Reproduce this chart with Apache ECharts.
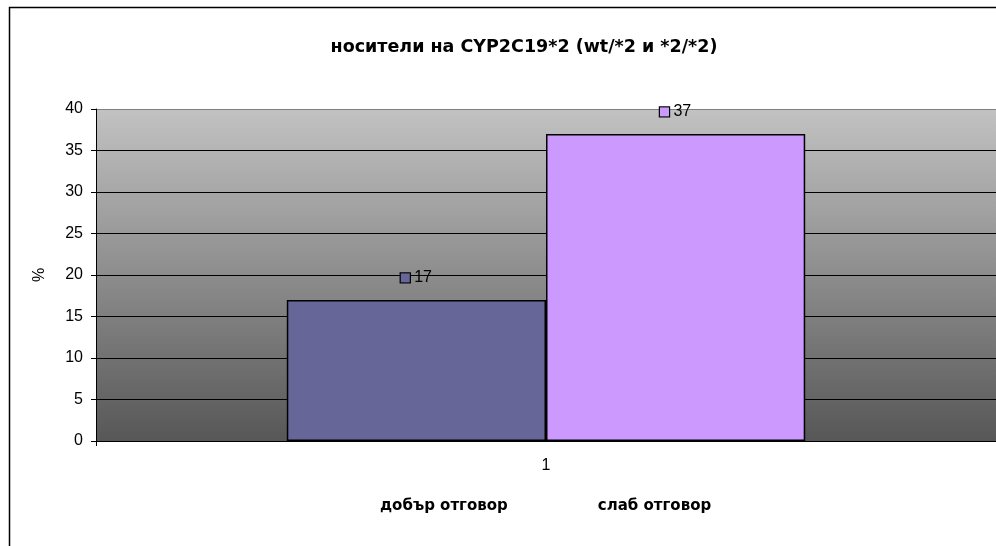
<!DOCTYPE html>
<html>
<head>
<meta charset="utf-8">
<script src="https://cdn.jsdelivr.net/npm/echarts@6/dist/echarts.min.js"></script>
<style>
  html, body { margin: 0; padding: 0; background: #fff; }
  #chart { width: 996px; height: 546px; }
</style>
</head>
<body>
<div id="chart"></div>
<script>
// Chart data
const titleText = 'носители на CYP2C19*2 (wt/*2 и *2/*2)';
const categories = ['1'];
const seriesNames = ['добър отговор', 'слаб отговор'];
const goodResponse = [17];
const poorResponse = [37];
const seriesColors = ['#666699', '#CC99FF'];
const yTicks = { min: 0, max: 40, interval: 5 };

const chart = echarts.init(document.getElementById('chart'));
const plainFont = 'Liberation Sans, Arial, sans-serif';

function makeLabel(color) {
  return {
    show: true,
    position: 'top',
    distance: 14,
    formatter: function (p) { return '{sq|}{v| ' + p.value + '}'; },
    rich: {
      sq: { width: 9, height: 9, backgroundColor: color, borderColor: '#000', borderWidth: 1.2 },
      v: { fontFamily: plainFont, fontSize: 16, color: '#000' }
    }
  };
}

const values = [goodResponse, poorResponse];

chart.setOption({
  animation: false,
  backgroundColor: '#fff',
  title: {
    text: titleText,
    left: 519,
    textAlign: 'center',
    top: 33,
    textStyle: { fontFamily: 'DejaVu Sans', fontWeight: 'bold', fontSize: 17.5, color: '#000' }
  },
  legend: {
    data: seriesNames,
    icon: 'none',
    left: 370,
    top: 494,
    itemGap: 85,
    itemWidth: 0,
    textStyle: { fontFamily: 'DejaVu Sans', fontWeight: 'bold', fontSize: 15, color: '#000' }
  },
  graphic: [{
    type: 'rect',
    shape: { x: 9.5, y: 7.5, width: 1000, height: 560 },
    style: { fill: 'none', stroke: '#000', lineWidth: 1.5 },
    silent: true,
    z: -10
  }],
  grid: {
    left: 96, right: -2, top: 109, bottom: 105,
    show: true,
    borderWidth: 0,
    backgroundColor: new echarts.graphic.LinearGradient(0, 0, 0, 1, [
      { offset: 0, color: '#c2c2c2' },
      { offset: 1, color: '#575757' }
    ])
  },
  xAxis: {
    type: 'category',
    data: categories,
    axisLine: { lineStyle: { color: '#000', width: 1 } },
    axisTick: { show: true, alignWithLabel: false, lineStyle: { color: '#000' } },
    axisLabel: { fontFamily: plainFont, fontSize: 16, color: '#000', margin: 17 }
  },
  yAxis: {
    type: 'value',
    min: yTicks.min, max: yTicks.max, interval: yTicks.interval,
    name: '%',
    nameLocation: 'middle',
    nameGap: 48,
    nameRotate: 90,
    nameTextStyle: { fontFamily: plainFont, fontSize: 16, color: '#000' },
    axisLine: { show: true, lineStyle: { color: '#000', width: 1 } },
    axisTick: { show: true, length: 5, lineStyle: { color: '#000' } },
    axisLabel: { fontFamily: plainFont, fontSize: 16, color: '#000', margin: 13 },
    splitLine: {
      show: true,
      lineStyle: { color: ['#000', '#000', '#000', '#000', '#000', '#000', '#000', '#000', '#808080'], width: 1 }
    }
  },
  series: seriesNames.map(function (name, i) {
    return {
      name: name,
      type: 'bar',
      data: values[i],
      barGap: '0%',
      barCategoryGap: '42.4%',
      itemStyle: { color: seriesColors[i], borderColor: '#000', borderWidth: 1.5 },
      label: makeLabel(seriesColors[i])
    };
  })
});
</script>
</body>
</html>
